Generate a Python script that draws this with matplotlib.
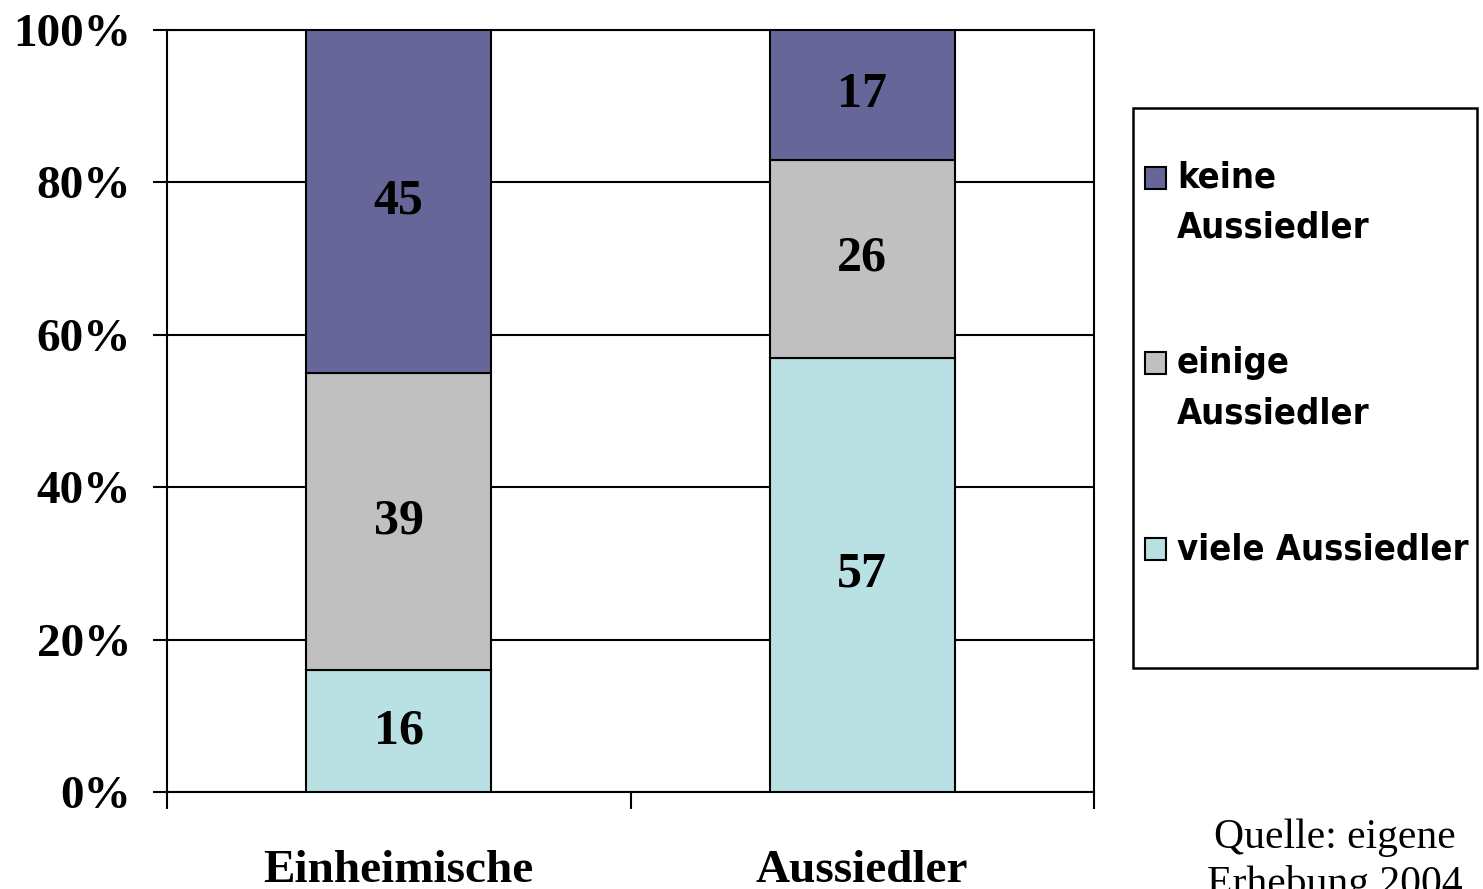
import numpy as np
import matplotlib
matplotlib.use("Agg")
import matplotlib.pyplot as plt
from matplotlib.patches import Rectangle
from matplotlib.ticker import FixedLocator, PercentFormatter

# Anteile in Prozent je Gruppe
gruppen = ["Einheimische", "Aussiedler"]
viele = [16, 57]
einige = [39, 26]
keine = [45, 17]

farben = {"viele": "#b9e0e3", "einige": "#c0c0c0", "keine": "#666699"}
serif = "Liberation Serif"
W, H = 1483, 889

fig = plt.figure(figsize=(14.83, 8.89), dpi=100)
ax = fig.add_axes([167 / W, 1 - 792 / H, 927 / W, 762 / H])

x = np.arange(len(gruppen))
breite = 0.4
unten = np.zeros(len(gruppen))
for name, werte in [("viele", viele), ("einige", einige), ("keine", keine)]:
    werte = np.array(werte, dtype=float)
    bars = ax.bar(x, werte, breite, bottom=unten, color=farben[name],
                  edgecolor="black", linewidth=1.5, zorder=3)
    for b, w in zip(bars, werte):
        ax.text(b.get_x() + b.get_width() / 2, b.get_y() + w / 2, f"{w:.0f}",
                ha="center", va="center", fontsize=36, fontweight="bold",
                family=serif, zorder=4)
    unten += werte

ax.set_xlim(-0.5, 1.5)
ax.set_ylim(0, 100)
ax.set_yticks(np.arange(0, 101, 20))
ax.yaxis.set_major_formatter(PercentFormatter(decimals=0))
ax.yaxis.grid(True, color="black", linewidth=1.5, zorder=0)
ax.set_axisbelow(True)

ax.set_xticks(x)
ax.set_xticklabels(gruppen)
ax.xaxis.set_minor_locator(FixedLocator([-0.5, 0.5, 1.5]))
ax.tick_params(axis="x", which="major", length=0, pad=42)
ax.tick_params(axis="x", which="minor", length=12, width=1.5, direction="out")
ax.tick_params(axis="y", length=10, width=1.5, direction="out", pad=16)
for lab in ax.get_xticklabels() + ax.get_yticklabels():
    lab.set_fontfamily(serif)
    lab.set_fontweight("bold")
for lab in ax.get_xticklabels():
    lab.set_fontsize(34)
for lab in ax.get_yticklabels():
    lab.set_fontsize(34)

for s in ax.spines.values():
    s.set_linewidth(1.5)
    s.set_color("black")

# Legende: Rahmen, Farbkästchen und Beschriftung von Hand gesetzt
fig.patches.append(Rectangle((1133 / W, 1 - 668 / H), 344 / W, 560 / H,
                             transform=fig.transFigure, fill=False,
                             edgecolor="black", linewidth=1.8))
legende = [("keine", ["keine", "Aussiedler"], 178),
           ("einige", ["einige", "Aussiedler"], 363),
           ("viele", ["viele Aussiedler"], 549)]
for name, zeilen, y0 in legende:
    fig.patches.append(Rectangle((1145 / W, 1 - (y0 + 11) / H), 21 / W, 22 / H,
                                 transform=fig.transFigure,
                                 facecolor=farben[name], edgecolor="black",
                                 linewidth=1.5))
    for i, z in enumerate(zeilen):
        fig.text(1177 / W, 1 - (y0 + 50 * i) / H, z, ha="left", va="center",
                 fontsize=26, fontweight="bold", fontstretch="condensed",
                 family="DejaVu Sans")

fig.text(1335 / W, 1 - 838 / H, "Quelle: eigene", ha="center", va="center",
         fontsize=30, family=serif)
fig.text(1335 / W, 1 - 884 / H, "Erhebung 2004", ha="center", va="center",
         fontsize=30, family=serif)

fig.savefig("out.png", dpi=100)
